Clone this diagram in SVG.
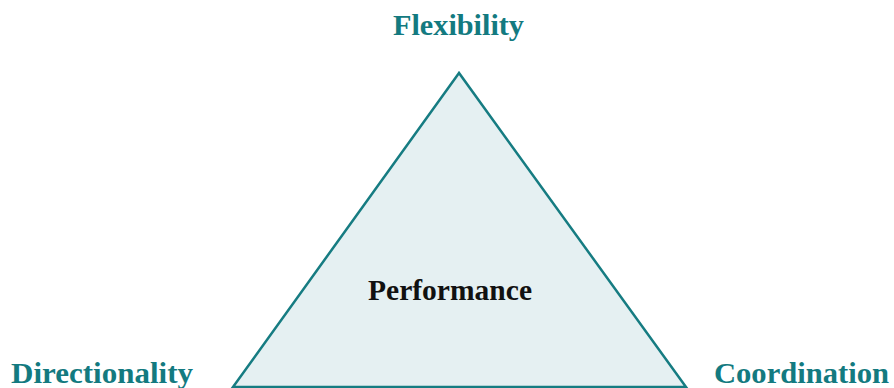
<svg xmlns="http://www.w3.org/2000/svg" width="894" height="388" viewBox="0 0 894 388">
<style>
.lbl{font-family:"Liberation Serif",serif;font-weight:bold;font-size:30px;fill:#137a80;text-anchor:middle}
.ctr{font-family:"Liberation Serif",serif;font-weight:bold;font-size:29px;fill:#111;text-anchor:middle}
</style>
<rect width="894" height="388" fill="#ffffff"/>
<g id="triangle">
<polygon points="459,73 233,387 686,387" fill="#e5f0f2" stroke="#167c82" stroke-width="2.5" stroke-linejoin="miter"/>
<text class="ctr" x="450" y="300" textLength="164" lengthAdjust="spacingAndGlyphs">Performance</text>
</g>
<g id="flexibility"><text class="lbl" x="458.5" y="35" textLength="131" lengthAdjust="spacingAndGlyphs">Flexibility</text></g>
<g id="directionality"><text class="lbl" x="102" y="383" textLength="182" lengthAdjust="spacingAndGlyphs">Directionality</text></g>
<g id="coordination"><text class="lbl" x="801.5" y="383" textLength="175" lengthAdjust="spacingAndGlyphs">Coordination</text></g>
<g id="connectors"></g>
</svg>
